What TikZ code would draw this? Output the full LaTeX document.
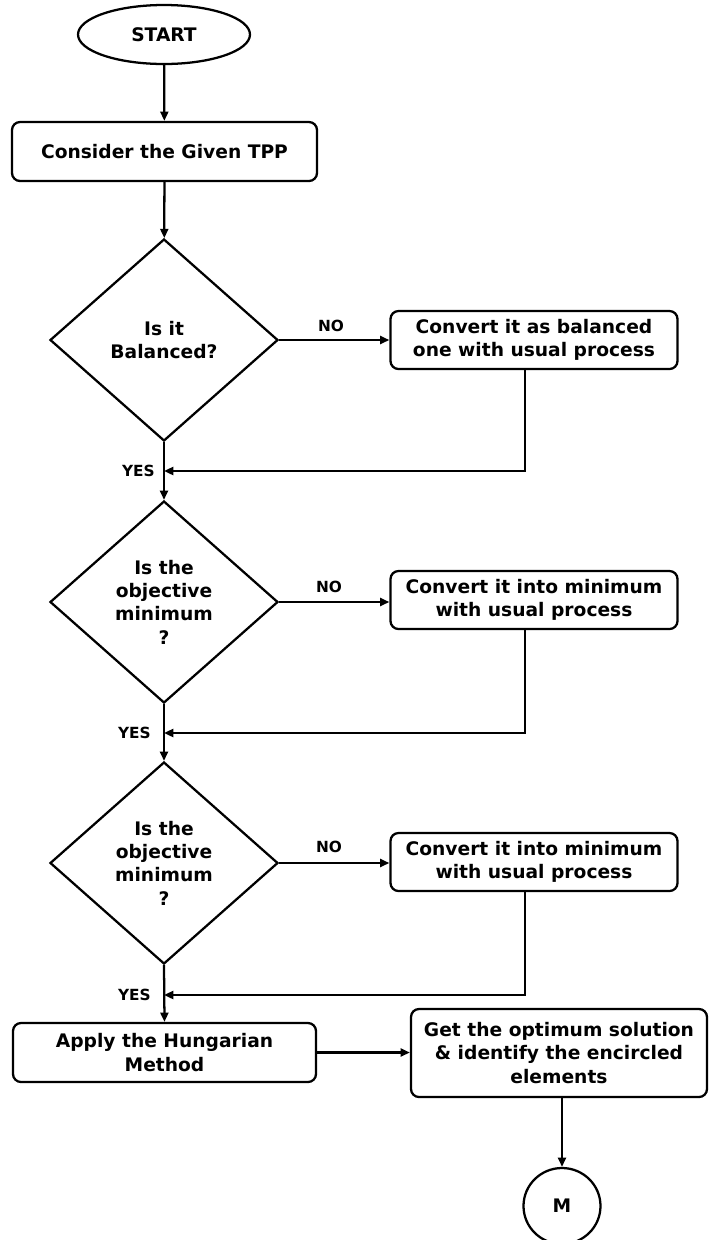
\documentclass[tikz,border=0pt]{standalone}
\usepackage{fontspec}
\setmainfont{DejaVu Sans}
\usetikzlibrary{shapes.geometric,arrows.meta}
\begin{document}
\begin{tikzpicture}[x=0.75pt,y=-0.75pt,
  every node/.style={font=\bfseries\fontsize{14}{17.5}\selectfont, align=center, inner sep=0pt},
  procbox/.style={draw, line width=1.7pt, rounded corners=6pt},
  decision/.style={draw, diamond, line width=1.7pt, minimum width=171pt, minimum height=151.5pt},
  term/.style={draw, ellipse, line width=1.7pt},
  lbl/.style={font=\bfseries\fontsize{11.5}{13}\selectfont},
  arr/.style={line width=1.7pt, -{Triangle[length=7pt,width=6pt]}},
  ln/.style={line width=1.7pt}
]
\useasboundingbox (0,0) rectangle (708,1240);
% nodes
\node[term, minimum width=129pt, minimum height=44.25pt] (start) at (164,34.5) {START};
\node[procbox, minimum width=228.75pt, minimum height=44.25pt] (tpp) at (164.5,151.5) {Consider the Given TPP};
\node[decision] (d1) at (164,340) {Is it\\Balanced?};
\node[procbox, minimum width=215.25pt, minimum height=43.5pt] (b1) at (534,340) {Convert it as balanced\\one with usual process};
\node[decision] (d2) at (164,602) {Is the\\objective\\minimum\\?};
\node[procbox, minimum width=215.25pt, minimum height=43.5pt] (b2) at (534,600) {Convert it into minimum\\with usual process};
\node[decision] (d3) at (164,863) {Is the\\objective\\minimum\\?};
\node[procbox, minimum width=215.25pt, minimum height=43.5pt] (b3) at (534,862) {Convert it into minimum\\with usual process};
\node[procbox, minimum width=227.25pt, minimum height=44.25pt] (hung) at (164.5,1052.5) {Apply the Hungarian\\Method};
\node[procbox, minimum width=222pt, minimum height=66pt] (get) at (559,1053) {Get the optimum solution\\\& identify the encircled\\elements};
\node[term, minimum width=57.75pt, minimum height=57pt] (m) at (562,1206) {M};
% junction coordinates
\coordinate (j1) at (164,471);
\coordinate (j2) at (164,733);
\coordinate (j3) at (164,995);
% connectors
\draw[arr] (start) -- (tpp);
\draw[arr] (tpp) -- (d1);
\draw[arr] (d1.east) -- (b1.west);
\draw[arr] (d1.south) -- (d2.north);
\draw[arr] ([xshift=-6.75pt]b1.south) |- (j1);
\draw[arr] (d2.east) -- (b2.west |- d2.east);
\draw[arr] (d2.south) -- (d3.north);
\draw[arr] ([xshift=-6.75pt]b2.south) |- (j2);
\draw[arr] (d3.east) -- (b3.west |- d3.east);
\draw[arr] (d3.south) -- (hung.north);
\draw[arr] ([xshift=-6.75pt]b3.south) |- (j3);
\draw[arr] (hung.east) -- (get.west |- hung.east);
\draw[arr] (m.north |- get.south) -- (m.north);
% labels
\node[lbl] (no1) at (331,326) {NO};
\node[lbl] (no2) at (329,587) {NO};
\node[lbl] (no3) at (329,847) {NO};
\node[lbl, anchor=east] (yes1) at (155,471) {YES};
\node[lbl, anchor=east] (yes2) at (151,733) {YES};
\node[lbl, anchor=east] (yes3) at (151,995) {YES};
\end{tikzpicture}
\end{document}
